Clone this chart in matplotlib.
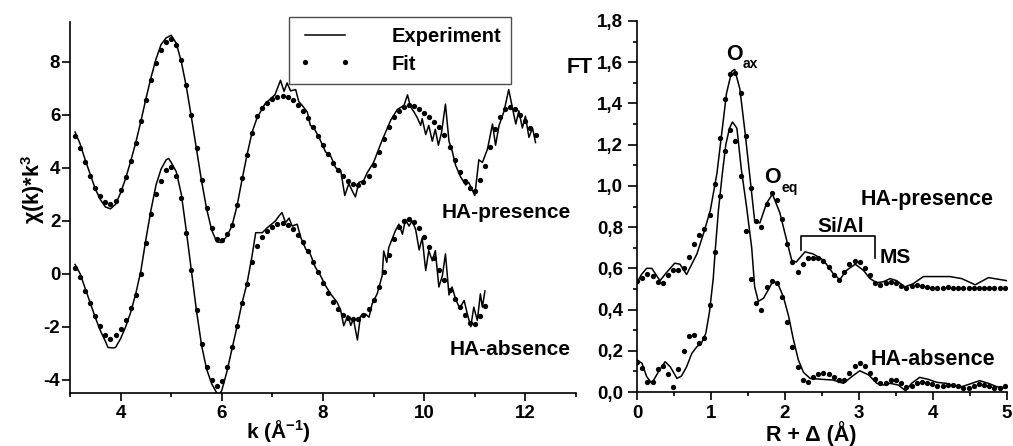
import numpy as np
import matplotlib
matplotlib.use("Agg")
import matplotlib.pyplot as plt
from matplotlib.lines import Line2D
from matplotlib.ticker import MultipleLocator, FuncFormatter

plt.rcParams['font.family'] = ['Liberation Sans', 'DejaVu Sans']
plt.rcParams['font.weight'] = 'bold'
plt.rcParams['axes.unicode_minus'] = False
plt.rcParams['mathtext.fontset'] = 'custom'
plt.rcParams['mathtext.rm'] = 'Liberation Sans:bold'
plt.rcParams['mathtext.it'] = 'Liberation Sans:bold'
plt.rcParams['mathtext.bf'] = 'Liberation Sans:bold'
plt.rcParams['mathtext.default'] = 'rm'

# ---------------- left panel data: k^3-weighted EXAFS ----------------
k_fit_pres = np.round(np.arange(3.1, 12.2001, 0.1), 2)
chi_fit_pres = [5.2, 4.75, 4.2, 3.7, 3.25, 2.92, 2.72, 2.65, 2.76, 3.15,
                3.65, 4.25, 4.95, 5.75, 6.55, 7.3, 7.94, 8.43, 8.74, 8.85,
                8.65, 8.05, 7.13, 5.98, 4.74, 3.52, 2.48, 1.71, 1.30, 1.27,
                1.5, 1.85, 2.6, 3.6, 4.5, 5.3, 5.95, 6.25, 6.45, 6.6,
                6.68, 6.7, 6.66, 6.56, 6.38, 6.15, 5.86, 5.54, 5.2, 4.85,
                4.51, 4.19, 3.9, 3.67, 3.49, 3.39, 3.35, 3.45, 3.7, 4.1,
                4.6, 5.1, 5.55, 5.9, 6.15, 6.3, 6.35, 6.32, 6.22, 6.08,
                5.9, 5.72, 5.52, 5.22, 4.8, 4.28, 3.85, 3.5, 3.22, 3.12,
                3.55, 4.05, 4.8, 5.45, 5.9, 6.2, 6.3, 6.2, 6.0, 5.75,
                5.5, 5.22]

k_fit_abs = np.round(np.arange(3.1, 11.2001, 0.1), 2)
chi_fit_abs = [0.2, -0.12, -0.64, -1.1, -1.6, -1.99, -2.3, -2.45, -2.33, -2.1,
               -1.75, -1.3, -0.8, 0.0, 1.15, 2.25, 3.0, 3.5, 3.9, 4.02,
               3.7, 2.85, 1.55, 0.15, -1.35, -2.65, -3.5, -4.0, -4.22, -4.05,
               -3.52, -2.78, -1.98, -1.1, -0.4, 0.45, 1.05, 1.37, 1.6, 1.78,
               1.88, 1.9, 1.83, 1.67, 1.45, 1.18, 0.84, 0.46, 0.05, -0.35,
               -0.72, -1.05, -1.33, -1.54, -1.67, -1.72, -1.7, -1.56, -1.34, -1.0,
               -0.5, 0.05, 0.72, 1.3, 1.75, 1.98, 2.06, 1.97, 1.72, 1.37,
               1.02, 0.6, 0.14, -0.23, -0.62, -0.96, -1.26, -1.57, -1.85, -1.9,
               -1.6, -1.2]

k_exp_pres = [3.1, 3.2, 3.3, 3.4, 3.5, 3.6, 3.7, 3.8, 3.9, 4.0,
              4.1, 4.2, 4.3, 4.4, 4.5, 4.6, 4.7, 4.8, 4.9, 5.0,
              5.1, 5.2, 5.3, 5.4, 5.5, 5.6, 5.7, 5.8, 5.9, 6.0,
              6.1, 6.2, 6.3, 6.4, 6.5, 6.6,
              6.7, 6.77, 6.85, 6.96, 7.05, 7.16, 7.23, 7.29, 7.36, 7.46,
              7.52, 7.59, 7.69, 7.75, 7.82, 7.92, 8.05, 8.15, 8.25, 8.35,
              8.43, 8.51, 8.58, 8.64, 8.71, 8.8, 8.87, 9.0, 9.14, 9.25,
              9.34, 9.47, 9.6, 9.67, 9.73, 9.8, 9.86, 9.93, 9.96, 10.03,
              10.09, 10.16, 10.22, 10.28, 10.34, 10.42, 10.49, 10.55, 10.62, 10.72,
              10.82, 10.88, 10.94, 11.0, 11.08, 11.15, 11.25, 11.35, 11.41, 11.48,
              11.58, 11.67, 11.75, 11.81, 11.87, 11.94, 12.0, 12.07, 12.14, 12.2]
chi_exp_pres = [5.35, 4.9, 4.3, 3.75, 3.2, 2.8, 2.52, 2.45, 2.62, 3.05,
                3.6, 4.25, 4.95, 5.75, 6.6, 7.4, 8.1, 8.65, 8.9, 9.0,
                8.7, 8.0, 7.05, 5.9, 4.7, 3.5, 2.45, 1.65, 1.2, 1.18,
                1.42, 1.8, 2.55, 3.55, 4.5, 5.35,
                5.9, 6.13, 6.4, 6.6, 6.75, 7.3, 6.88, 7.2, 6.9, 6.95,
                6.5, 6.35, 6.1, 5.6, 5.5, 5.15, 4.6, 4.45, 4.0, 3.9,
                2.95, 3.4, 3.12, 2.9, 3.45, 3.5, 3.8, 4.2, 4.9, 5.4,
                5.8, 6.2, 6.35, 6.75, 6.3, 6.1, 5.9, 5.6, 5.85, 5.25,
                5.6, 5.0, 5.45, 4.85, 5.3, 6.4, 5.0, 4.65, 4.1, 3.65,
                3.35, 3.45, 3.2, 2.95, 4.3, 4.2, 4.7, 5.65, 4.85, 5.6,
                6.15, 6.95, 6.2, 5.65, 6.15, 5.5, 5.95, 5.15, 5.5, 4.95]

k_exp_abs = [3.1, 3.2, 3.3, 3.4, 3.5, 3.6, 3.7, 3.75, 3.85, 3.9,
             4.0, 4.1, 4.2, 4.3, 4.4, 4.5, 4.6, 4.7, 4.8, 4.9,
             4.95, 5.0, 5.1, 5.2, 5.3, 5.4, 5.5, 5.6, 5.7, 5.8,
             5.9, 5.95, 6.0, 6.1, 6.2, 6.3, 6.4, 6.5,
             6.6, 6.67, 6.8, 6.9, 7.06, 7.13, 7.19, 7.26, 7.33, 7.39,
             7.49, 7.56, 7.66, 7.75, 7.85, 7.95, 8.05, 8.15, 8.28, 8.35,
             8.41, 8.49, 8.55, 8.6, 8.68, 8.74, 8.84, 8.91, 8.97, 9.07,
             9.17, 9.2, 9.26, 9.3, 9.43, 9.5, 9.57, 9.63, 9.7, 9.76,
             9.83, 9.9, 9.96, 10.03, 10.09, 10.16, 10.22, 10.29, 10.36, 10.42,
             10.49, 10.55, 10.62, 10.7, 10.79, 10.85, 10.92, 10.98, 11.05, 11.11,
             11.15, 11.2]
chi_exp_abs = [0.35, 0.0, -0.55, -1.1, -1.65, -2.15, -2.55, -2.78, -2.8, -2.78,
               -2.45, -2.0, -1.45, -0.75, 0.1, 1.3, 2.4, 3.35, 3.95, 4.3,
               4.35, 4.2, 3.85, 3.0, 1.6, 0.1, -1.4, -2.7, -3.6, -4.15,
               -4.5, -4.55, -4.4, -3.7, -2.85, -2.0, -1.1, -0.35,
               0.7, 1.55, 1.55, 1.74, 1.99, 2.18, 2.31, 1.93, 2.1, 1.8,
               1.87, 1.37, 0.93, 0.74, 0.24, -0.07, -0.45, -0.76, -1.08, -1.39,
               -1.96, -1.58, -1.95, -1.7, -2.5, -1.6, -1.52, -1.64, -1.14, -0.76,
               -0.07, 0.86, 0.43, 0.99, 1.62, 1.87, 1.49, 2.05, 1.8, 1.99,
               1.68, 0.9, 1.35, 0.12, 0.87, 0.49, 0.87, -0.5, -0.07, 0.75,
               -0.8, -0.5, -0.95, -1.3, -1.01, -1.5, -2.0, -1.26, -1.76, -0.76,
               -1.26, -0.65]

k_ticks = [4, 6, 8, 10, 12]
chi_ticks = [-4, -2, 0, 2, 4, 6, 8]

# ---------------- right panel data: Fourier transform ----------------
R_fit = np.round(np.arange(0.0, 5.0, 0.07), 2)
ft_fit_pres = [0.54, 0.555, 0.573, 0.565, 0.535, 0.527, 0.57, 0.592, 0.592, 0.60,
               0.655, 0.72, 0.76, 0.79, 0.86, 1.01, 1.23, 1.42, 1.545, 1.55,
               1.45, 1.24, 0.99, 0.83, 0.80, 0.91, 0.965, 0.93, 0.84, 0.72,
               0.63, 0.58, 0.62, 0.65, 0.652, 0.648, 0.635, 0.605, 0.57, 0.545,
               0.58, 0.62, 0.636, 0.63, 0.60, 0.567, 0.53, 0.52, 0.53, 0.535,
               0.53, 0.515, 0.505, 0.515, 0.52, 0.512,
               0.508, 0.507, 0.506, 0.507, 0.508, 0.507, 0.506, 0.506,
               0.507, 0.507, 0.506, 0.507, 0.507, 0.506, 0.506, 0.507]
ft_fit_abs = [0.147, 0.115, 0.047, 0.047, 0.11, 0.128, 0.085, 0.026, 0.11, 0.20,
              0.27, 0.275, 0.24, 0.26, 0.42, 0.68, 0.95, 1.17, 1.27, 1.22,
              1.05, 0.78, 0.55, 0.43, 0.40, 0.51, 0.54, 0.53, 0.46, 0.34,
              0.22, 0.12, 0.06, 0.05, 0.075, 0.088, 0.093, 0.088, 0.075, 0.058,
              0.058, 0.09, 0.127, 0.14, 0.126, 0.092, 0.065, 0.045, 0.045, 0.056,
              0.058, 0.045, 0.026, 0.028, 0.042, 0.047, 0.043, 0.038, 0.03, 0.03,
              0.036, 0.035, 0.029, 0.021, 0.018, 0.031, 0.037, 0.035, 0.028, 0.02,
              0.02, 0.028]

R_exp_pres = [0, 0.06, 0.13, 0.2, 0.31, 0.4, 0.51, 0.58, 0.67, 0.81,
              0.9, 0.99, 1.08, 1.14, 1.21, 1.28, 1.32, 1.39, 1.46, 1.53,
              1.59, 1.66, 1.75, 1.83, 1.93, 2.02, 2.09, 2.15, 2.27, 2.38,
              2.52, 2.65, 2.74, 2.83, 2.95, 3.06, 3.15, 3.24, 3.33, 3.42,
              3.51, 3.62, 3.73, 3.87, 4.05, 4.23, 4.39, 4.57, 4.75, 5.0]
ft_exp_pres = [0.53, 0.57, 0.60, 0.60, 0.54, 0.58, 0.625, 0.62, 0.57, 0.67,
               0.77, 0.88, 1.06, 1.24, 1.45, 1.555, 1.565, 1.47, 1.26, 1.03,
               0.83, 0.82, 0.915, 0.96, 0.87, 0.74, 0.64, 0.63, 0.68, 0.67,
               0.64, 0.575, 0.545, 0.59, 0.62, 0.59, 0.55, 0.53, 0.535, 0.55,
               0.54, 0.51, 0.525, 0.56, 0.56, 0.56, 0.55, 0.52, 0.555, 0.54]

R_exp_abs = [0, 0.067, 0.13, 0.2, 0.29, 0.38, 0.45, 0.54, 0.6, 0.67,
             0.74, 0.81, 0.87, 0.93, 0.98, 1.03, 1.06, 1.1, 1.15, 1.2,
             1.25, 1.29, 1.35, 1.41, 1.48, 1.55, 1.59, 1.64, 1.71, 1.78,
             1.84, 1.91, 1.98, 2.05, 2.11, 2.18, 2.25, 2.34, 2.52, 2.65,
             2.79, 2.9, 3.01, 3.13, 3.24, 3.33, 3.42, 3.53, 3.63, 3.71,
             3.82, 3.94, 4.05, 4.18, 4.27, 4.39, 4.5, 4.63, 4.75, 4.86, 5.0]
ft_exp_abs = [0.155, 0.14, 0.075, 0.042, 0.098, 0.147, 0.122, 0.066, 0.077, 0.122,
              0.187, 0.22, 0.236, 0.285, 0.39, 0.55, 0.70, 0.88, 1.05, 1.2,
              1.28, 1.31, 1.28, 1.08, 0.90, 0.70, 0.51, 0.44, 0.455, 0.50,
              0.54, 0.52, 0.46, 0.366, 0.26, 0.156, 0.095, 0.066, 0.061, 0.058,
              0.042, 0.074, 0.103, 0.083, 0.042, 0.034, 0.042, 0.034, 0.006, 0.042,
              0.071, 0.061, 0.047, 0.042, 0.031, 0.026, 0.039, 0.055, 0.042, 0.026, 0.018]

R_ticks = [0, 1, 2, 3, 4, 5]
ft_ticks = [0.0, 0.2, 0.4, 0.6, 0.8, 1.0, 1.2, 1.4, 1.6, 1.8]

# ---------------- figure ----------------
W, H = 1013, 446
fig = plt.figure(figsize=(W / 100, H / 100), dpi=100)


def fx(x):
    return x / W


def fy(y):
    return 1 - y / H


def ftxt(x, y, s, **kw):
    kw.setdefault('ha', 'left')
    kw.setdefault('va', 'baseline')
    kw.setdefault('fontweight', 'bold')
    return fig.text(fx(x), fy(y), s, **kw)


ax1 = fig.add_axes([fx(70), fy(393), (576 - 70) / W, (393 - 22) / H])
ax2 = fig.add_axes([fx(637), fy(392), (1007 - 637) / W, (392 - 21) / H])

LW = 1.1
MS = 3.8

l_exp, = ax1.plot(k_exp_pres, chi_exp_pres, color='black', lw=LW)
ax1.plot(k_exp_abs, chi_exp_abs, color='black', lw=LW)
l_fit, = ax1.plot(k_fit_pres, chi_fit_pres, 'o', color='black', ms=MS, mew=0, ls='none')
ax1.plot(k_fit_abs, chi_fit_abs, 'o', color='black', ms=MS, mew=0, ls='none')

ax1.set_xlim(3.0, 13.0)
ax1.set_ylim(-4.5, 9.5)
ax1.set_xticks(k_ticks)
ax1.set_yticks(chi_ticks)
ax1.xaxis.set_minor_locator(MultipleLocator(1))

ax2.plot(R_exp_pres, ft_exp_pres, color='black', lw=LW)
ax2.plot(R_exp_abs, ft_exp_abs, color='black', lw=LW)
ax2.plot(R_fit, ft_fit_pres, 'o', color='black', ms=MS, mew=0, ls='none')
ax2.plot(R_fit, ft_fit_abs, 'o', color='black', ms=MS, mew=0, ls='none')
ax2.set_xlim(0, 5)
ax2.set_ylim(0, 1.8)
ax2.set_xticks(R_ticks)
ax2.set_yticks(ft_ticks)
ax2.xaxis.set_minor_locator(MultipleLocator(0.5))
ax2.yaxis.set_minor_locator(MultipleLocator(0.1))
ax2.yaxis.set_major_formatter(FuncFormatter(lambda v, p: f"{v:.1f}".replace('.', ',')))

for ax in (ax1, ax2):
    for s in ('top', 'right'):
        ax.spines[s].set_visible(False)
    for s in ('left', 'bottom'):
        ax.spines[s].set_linewidth(1.2)
    ax.tick_params(which='major', direction='out', length=5.5, width=1.2,
                   labelsize=13.5, colors='black')
    ax.tick_params(which='minor', direction='out', length=3, width=1.2)
    ax.tick_params(axis='y', which='major', pad=1.5)
    ax.tick_params(axis='x', which='major', pad=3.5)
    for lab in ax.get_xticklabels() + ax.get_yticklabels():
        lab.set_fontweight('bold')
ax2.tick_params(axis='y', which='major', length=6.5, pad=3.5)

leg = ax1.legend([l_exp, l_fit], ['Experiment', 'Fit'], loc='upper left',
                 bbox_to_anchor=(fx(289), fy(17)), bbox_transform=fig.transFigure,
                 borderaxespad=0, frameon=True, fancybox=False,
                 numpoints=2, handlelength=2.6, handletextpad=2.0,
                 labelspacing=0.42, borderpad=0.5,
                 prop={'weight': 'bold', 'size': 14.5})
leg.get_frame().set_edgecolor('#222222')
leg.get_frame().set_linewidth(1.0)

# axis titles
ftxt(33, 190, r'χ(k)*k$^{3}$', rotation=90, ha='center', va='center', fontsize=15.5)
ftxt(278, 438, r'k (Å$^{-1}$)', ha='center', fontsize=15)
ftxt(811, 441, 'R + Δ (Å)', ha='center', fontsize=15.5)
ftxt(593, 73, 'FT', ha='right', fontsize=15.5)

# left annotations
ftxt(442, 218, 'HA-presence', fontsize=15)
ftxt(450, 355, 'HA-absence', fontsize=15)

# right annotations
ftxt(861, 205, 'HA-presence', fontsize=15.5)
ftxt(871, 365, 'HA-absence', fontsize=15.5)
ftxt(817, 232, 'Si/Al', fontsize=15)
ftxt(880, 263, 'MS', fontsize=15)
ftxt(726, 60, 'O', fontsize=15.5)
ftxt(743, 68, 'ax', fontsize=10)
ftxt(764, 183, 'O', fontsize=15.5)
ftxt(781, 192, 'eq', fontsize=10)

fig.add_artist(Line2D([fx(801), fx(801), fx(875), fx(875)],
                      [fy(250), fy(236), fy(236), fy(258)],
                      color='black', lw=1.2, transform=fig.transFigure))

fig.savefig('out.png', dpi=100)
